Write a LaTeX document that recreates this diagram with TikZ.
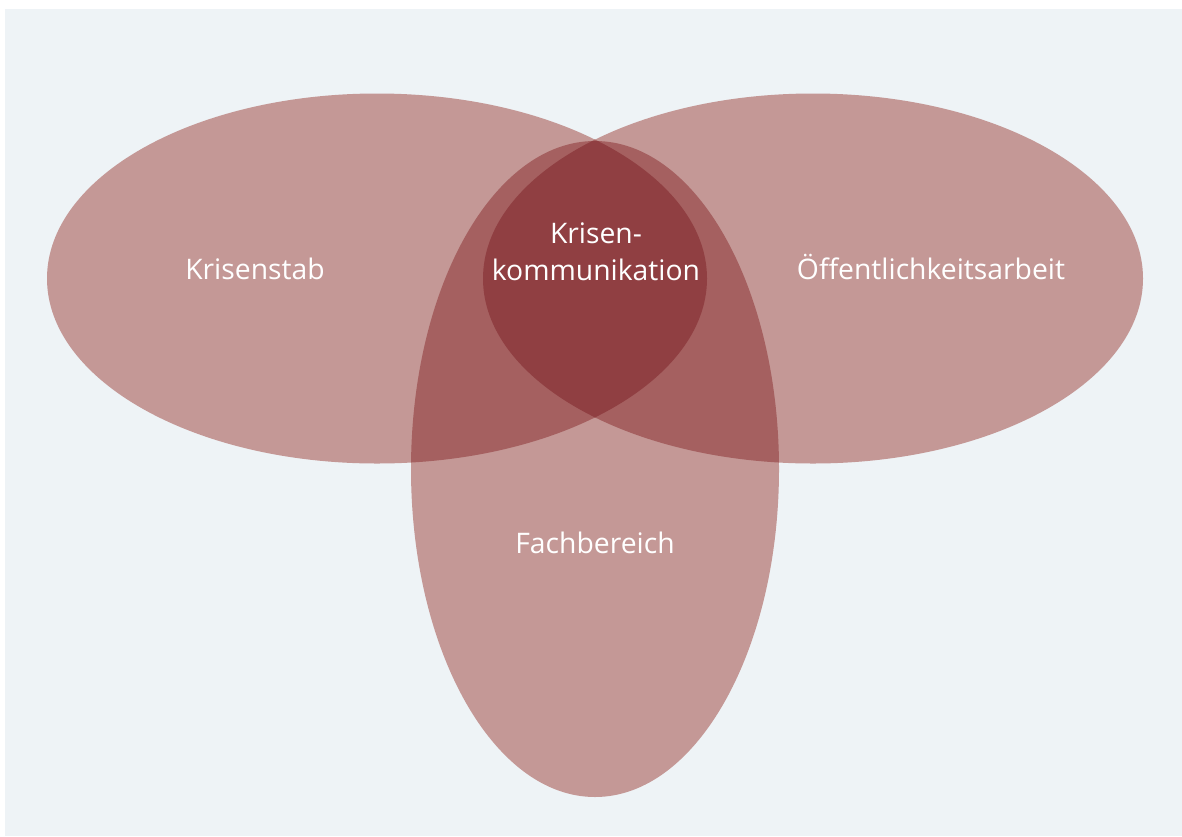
\documentclass[tikz,border=0pt]{standalone}
\usepackage{fontspec}
\setmainfont{Open Sans}
\begin{document}
\begin{tikzpicture}[x=1pt,y=-1pt,
  label/.style={text=white,font=\fontsize{28.3}{37}\selectfont,align=center,inner sep=0pt,anchor=base},
]
\definecolor{bgpanel}{HTML}{EEF3F6}
\definecolor{oneset}{HTML}{C49896}
\definecolor{twosets}{HTML}{A56060}
\definecolor{threesets}{HTML}{903F42}
\useasboundingbox (0,0) rectangle (1182,836);
\fill[white] (0,0) rectangle (1182,836);
\fill[bgpanel] (5,9) rectangle (1182,836);
% the three sets
\def\setL{(377,278.5) ellipse [x radius=330,y radius=185]}
\def\setR{(813,278.5) ellipse [x radius=330,y radius=185]}
\def\setB{(595,469) ellipse [x radius=184,y radius=328]}
\fill[oneset] \setL;
\fill[oneset] \setR;
\fill[oneset] \setB;
% pairwise overlaps
\begin{scope}\clip \setL; \fill[twosets] \setR; \fill[twosets] \setB; \end{scope}
\begin{scope}\clip \setR; \fill[twosets] \setB; \end{scope}
% common core
\begin{scope}\clip \setL; \clip \setR; \fill[threesets] \setB; \end{scope}
% labels
\node[label] (krisenstab) at (255,279) {Krisenstab};
\node[label] (oeffentlichkeit) at (931,279) {Öffentlichkeitsarbeit};
\node[label] (fachbereich) at (595,553) {Fachbereich};
\node[label] (krisenkomm) at (596,280) {Krisen-\\kommunikation};
\end{tikzpicture}
\end{document}
